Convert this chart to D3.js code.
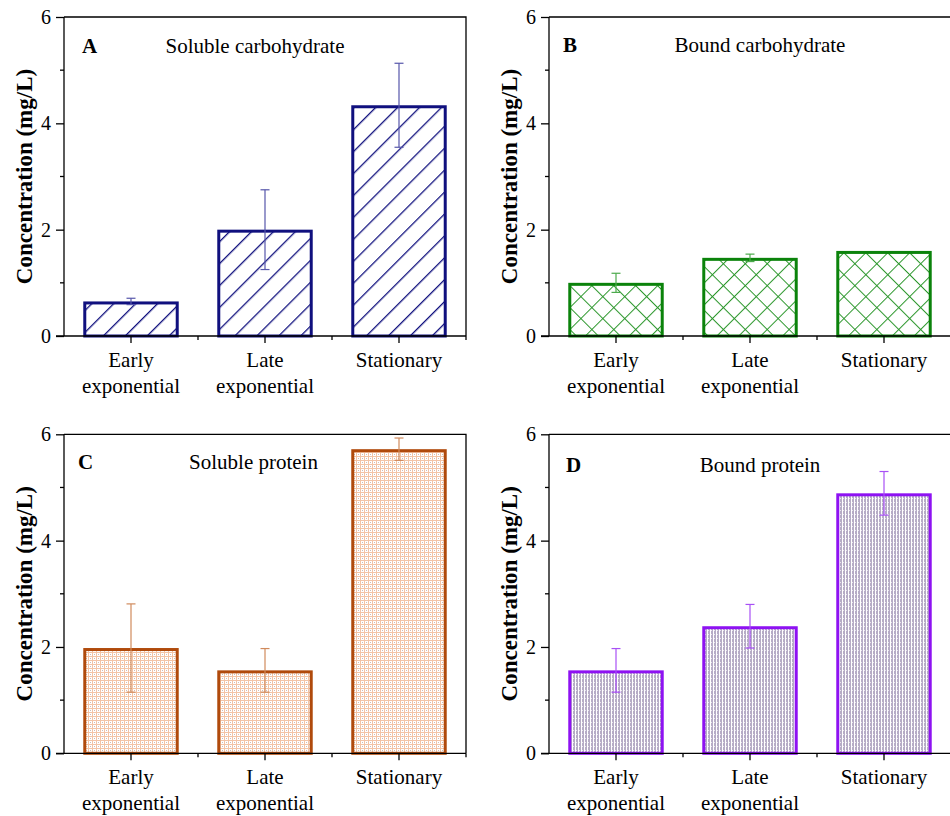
<!DOCTYPE html>
<html>
<head>
<meta charset="utf-8">
<script src="https://cdn.jsdelivr.net/npm/d3@7/dist/d3.min.js"></script>
<style>
  html, body { margin: 0; padding: 0; background: #fff; }
  svg { display: block; }
  text { font-family: "Liberation Serif", "Times New Roman", serif; fill: #000; }
</style>
</head>
<body>
<svg id="chart" width="950" height="816"></svg>
<script>
// Growth phases shared by all four panels
const phases = [["Early", "exponential"], ["Late", "exponential"], ["Stationary"]];
const phaseKeys = ["Early exponential", "Late exponential", "Stationary"];

// Mean concentrations (mg/L) and standard deviations
const solubleCarbohydrate = [0.65, 2.0, 4.34];
const solubleCarbohydrateSD = [0.06, 0.75, 0.79];
const boundCarbohydrate = [1.0, 1.47, 1.60];
const boundCarbohydrateSD = [0.18, 0.07, 0];
const solubleProtein = [1.98, 1.56, 5.72];
const solubleProteinSD = [0.83, 0.41, 0.21];
const boundProtein = [1.56, 2.39, 4.89];
const boundProteinSD = [0.41, 0.41, 0.41];

const yTicks = [0, 2, 4, 6];
const yMinorTicks = [1, 3, 5];
const yTitle = "Concentration (mg/L)";

const panels = [
  { letter: "A", title: "Soluble carbohydrate", values: solubleCarbohydrate, sd: solubleCarbohydrateSD,
    x0: 64, y0: 17, letterDx: 18, letterY: 52.5, titleX: 255, titleY: 52.5,
    stroke: "#10107e", errColor: "#5656aa", fill: "url(#hatchA)" },
  { letter: "B", title: "Bound carbohydrate", values: boundCarbohydrate, sd: boundCarbohydrateSD,
    x0: 549, y0: 17, letterDx: 14, letterY: 51.5, titleX: 760, titleY: 51.5,
    stroke: "#0b830b", errColor: "#4caa4c", fill: "url(#hatchB)" },
  { letter: "C", title: "Soluble protein", values: solubleProtein, sd: solubleProteinSD,
    x0: 64, y0: 434.3, letterDx: 14, letterY: 469, titleX: 253.5, titleY: 469,
    stroke: "#b04a0c", errColor: "#d08a5c", fill: "url(#dotsC)" },
  { letter: "D", title: "Bound protein", values: boundProtein, sd: boundProteinSD,
    x0: 549, y0: 434.3, letterDx: 17, letterY: 472, titleX: 760, titleY: 472,
    stroke: "#8e12f2", errColor: "#a850f5", fill: "url(#dotsD)" }
];

const plotW = 402, plotH = 319;
const svg = d3.select("#chart");
const defs = svg.append("defs");

// Diagonal hatching for panel A
const pa = defs.append("pattern").attr("id", "hatchA")
  .attr("patternUnits", "userSpaceOnUse").attr("width", 15.5).attr("height", 15.5)
  .attr("patternTransform", "rotate(45)");
pa.append("line").attr("x1", 0).attr("y1", 0).attr("x2", 0).attr("y2", 15.5)
  .attr("stroke", "#10107e").attr("stroke-width", 2.6);

// Cross hatching for panel B
const pb = defs.append("pattern").attr("id", "hatchB")
  .attr("patternUnits", "userSpaceOnUse").attr("width", 15.5).attr("height", 15.5)
  .attr("patternTransform", "rotate(45)");
pb.append("line").attr("x1", 0).attr("y1", 0).attr("x2", 0).attr("y2", 15.5)
  .attr("stroke", "#2a962a").attr("stroke-width", 2);
pb.append("line").attr("x1", 0).attr("y1", 0).attr("x2", 15.5).attr("y2", 0)
  .attr("stroke", "#2a962a").attr("stroke-width", 2);

// Fine dotted fill for panel C
const pc = defs.append("pattern").attr("id", "dotsC")
  .attr("patternUnits", "userSpaceOnUse").attr("width", 4).attr("height", 4);
pc.append("rect").attr("width", 4).attr("height", 4).attr("fill", "#fff");
pc.append("rect").attr("x", 0).attr("y", 0).attr("width", 4).attr("height", 1).attr("fill", "#f3c4a6");
pc.append("rect").attr("x", 0).attr("y", 0).attr("width", 1).attr("height", 4).attr("fill", "#f3c4a6");
pc.append("rect").attr("x", 2).attr("y", 2).attr("width", 1).attr("height", 1).attr("fill", "#cdbdb6");

// Fine striped fill for panel D
const pd = defs.append("pattern").attr("id", "dotsD")
  .attr("patternUnits", "userSpaceOnUse").attr("width", 3).attr("height", 4);
pd.append("rect").attr("width", 3).attr("height", 4).attr("fill", "#fff");
pd.append("rect").attr("x", 0).attr("y", 0).attr("width", 2).attr("height", 4).attr("fill", "#b6acc6");
pd.append("rect").attr("x", 0).attr("y", 2).attr("width", 1).attr("height", 1).attr("fill", "#e8e4ee");

panels.forEach(p => {
  const g = svg.append("g");
  const x = d3.scaleBand().domain(phaseKeys).range([p.x0, p.x0 + plotW])
    .paddingInner(0.31).paddingOuter(0.155);
  const y = d3.scaleLinear().domain([0, 6]).range([p.y0 + plotH, p.y0]);
  const step = x.step();
  const yBase = y(0);

  // bars
  g.selectAll("rect.bar").data(p.values).join("rect")
    .attr("class", "bar")
    .attr("x", (d, i) => x(phaseKeys[i]))
    .attr("y", d => y(d) + 1.5)
    .attr("width", x.bandwidth())
    .attr("height", d => yBase - y(d) - 1.5)
    .attr("fill", p.fill)
    .attr("stroke", p.stroke)
    .attr("stroke-width", 3);

  // error bars
  p.values.forEach((v, i) => {
    const s = p.sd[i];
    if (!s) return;
    const cx = x(phaseKeys[i]) + x.bandwidth() / 2;
    const eg = g.append("g").attr("stroke", p.errColor).attr("stroke-width", 1.2);
    eg.append("line").attr("x1", cx).attr("x2", cx).attr("y1", y(v + s)).attr("y2", y(v - s));
    eg.append("line").attr("x1", cx - 4.5).attr("x2", cx + 4.5).attr("y1", y(v + s)).attr("y2", y(v + s));
    eg.append("line").attr("x1", cx - 4.5).attr("x2", cx + 4.5).attr("y1", y(v - s)).attr("y2", y(v - s));
  });

  // frame top and right
  g.append("path")
    .attr("d", `M${p.x0},${p.y0}H${p.x0 + plotW}V${yBase}`)
    .attr("fill", "none").attr("stroke", "#000").attr("stroke-width", 1.3);

  // y axis
  const yAxis = d3.axisLeft(y).tickValues(yTicks).tickSize(8).tickPadding(5).tickFormat(d3.format("d"));
  const ya = g.append("g").attr("transform", `translate(${p.x0},0)`).call(yAxis);
  ya.attr("font-family", null);
  ya.select(".domain").attr("stroke-width", 1.3).attr("d", `M0,${p.y0}V${yBase}`);
  ya.selectAll(".tick line").attr("stroke-width", 1.3);
  ya.selectAll(".tick text").style("font-size", "20px").style("font-family", "Liberation Serif");
  g.append("g").selectAll("line").data(yMinorTicks).join("line")
    .attr("x1", p.x0 - 4).attr("x2", p.x0).attr("y1", d => y(d)).attr("y2", d => y(d))
    .attr("stroke", "#000").attr("stroke-width", 1.3);

  // x axis
  const xAxis = d3.axisBottom(x).tickSize(7).tickFormat("");
  const xa = g.append("g").attr("transform", `translate(0,${yBase})`).call(xAxis);
  xa.select(".domain").attr("stroke-width", 1.3).attr("d", `M${p.x0 - 8},0H${p.x0 + plotW}`);
  xa.selectAll(".tick line").attr("stroke-width", 1.3);
  g.append("g").selectAll("line").data(d3.range(1, phaseKeys.length + 1)).join("line")
    .attr("x1", d => p.x0 + d * step).attr("x2", d => p.x0 + d * step)
    .attr("y1", yBase).attr("y2", yBase + 4)
    .attr("stroke", "#000").attr("stroke-width", 1.3);

  // category labels
  phases.forEach((lines, i) => {
    const cx = x(phaseKeys[i]) + x.bandwidth() / 2;
    const t = g.append("text").attr("text-anchor", "middle")
      .style("font-size", "21px").style("font-family", "Liberation Serif");
    lines.forEach((ln, j) => {
      t.append("tspan").attr("x", cx).attr("y", yBase + 31 + j * 25.5).text(ln);
    });
  });

  // y title
  g.append("text")
    .attr("transform", `translate(${p.x0 - 32},${p.y0 + plotH / 2}) rotate(-90)`)
    .attr("text-anchor", "middle")
    .style("font-size", "23px").style("font-weight", "bold")
    .text(yTitle);

  // panel letter and title
  g.append("text").attr("x", p.x0 + p.letterDx).attr("y", p.letterY)
    .style("font-size", "21px").style("font-weight", "bold").text(p.letter);
  g.append("text").attr("x", p.titleX).attr("y", p.titleY).attr("text-anchor", "middle")
    .style("font-size", "21px").text(p.title);
});
</script>
</body>
</html>
